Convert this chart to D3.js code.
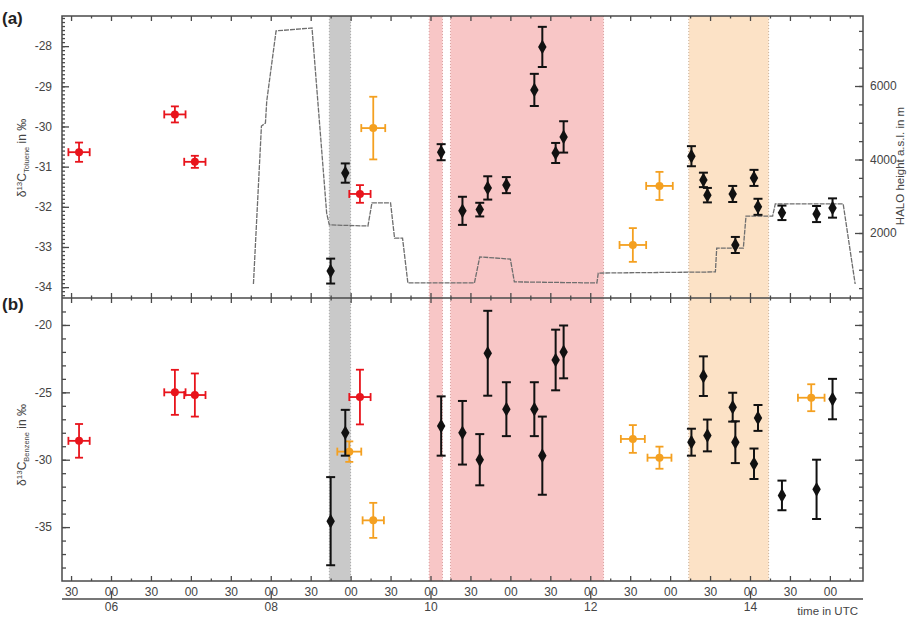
<!DOCTYPE html>
<html><head><meta charset="utf-8">
<script src="https://cdn.jsdelivr.net/npm/d3@7"></script>
<style>body{margin:0;background:#fff} svg{display:block;font-family:"Liberation Sans",Arial,sans-serif}</style>
</head><body><svg id="c" width="914" height="617"></svg>
<script>
// ---------------- data ----------------
const blackTimes = ["08:45","08:56","10:08","10:24","10:37","10:43","10:57","11:18","11:24","11:34","11:40",
                    "13:16","13:25","13:28","13:47","13:49","14:03","14:06","14:24","14:50","15:02"];
const topBlack    = [-33.60,-31.16,-30.64,-32.10,-32.07,-31.53,-31.46,-29.09,-28.02,-30.66,-30.26,
                     -30.74,-31.33,-31.71,-31.68,-32.95,-31.28,-32.00,-32.15,-32.18,-32.03];
const topBlackErr = [0.31,0.24,0.20,0.35,0.17,0.29,0.20,0.40,0.50,0.25,0.39,
                     0.25,0.18,0.18,0.20,0.20,0.20,0.20,0.18,0.20,0.24];
const botBlack    = [-34.56,-28.0,-27.5,-28.0,-30.0,-22.1,-26.25,-26.25,-29.7,-22.6,-22.0,
                     -28.7,-23.8,-28.2,-26.1,-28.7,-30.3,-26.9,-32.65,-32.2,-25.5];
const botBlackErr = [3.27,1.7,2.2,2.36,1.9,3.15,2.0,2.0,2.9,2.25,1.96,
                     1.0,1.47,1.18,1.07,1.55,1.13,0.96,1.1,2.2,1.5];

const redTimes   = ["05:36","06:48","07:03","09:07"];
const redTimeErr = [8,8,8,8];           // minutes (half width)
const topRed     = [-30.64,-29.70,-30.88,-31.68];
const topRedErr  = [0.24,0.20,0.15,0.22];
const botRed     = [-28.6,-25.0,-25.2,-25.35];
const botRedErr  = [1.25,1.67,1.6,2.03];

const topOrangeTimes = ["09:17","12:32","12:52"];
const topOrangeTErr  = [9,10,10];
const topOrange      = [-30.04,-32.95,-31.48];
const topOrangeErr   = [0.78,0.42,0.35];
const botOrangeTimes = ["08:59","09:17","12:32","12:52","14:46"];
const botOrangeTErr  = [9,8,9,9,10];
const botOrange      = [-29.4,-34.5,-28.46,-29.85,-25.4];
const botOrangeErr   = [0.76,1.3,1.03,0.82,1.0];

const haloTimes  = ["07:47","07:53","07:56","07:57","08:04","08:31","08:42","08:44","09:13","09:16","09:30","09:33",
                    "09:39","09:43","10:33","10:37","11:00","11:03","12:05","12:06","13:34","13:35","13:55","13:57",
                    "14:17","14:19","15:10","15:19"];
const haloHeight = [612,4910,4990,5590,7500,7580,2540,2220,2190,2820,2820,1860,
                    1860,640,640,1350,1290,670,640,910,940,1590,1590,2460,
                    2460,2790,2790,612];

const shadeStart = ["08:44","09:59","10:15","13:14"];
const shadeEnd   = ["09:00","10:09","12:10","14:14"];
const shadeKind  = ["gray","pink","pink","peach"];

const yTicksA = [-28,-29,-30,-31,-32,-33,-34];
const yTicksB = [-20,-25,-30,-35];
const hTicks  = [2000,4000,6000];
const hourLabels = ["06","08","10","12","14"];

// ---------------- layout ----------------
const L=62, R=863, TA=16, BA=298, TB=298, BB=581;
const hr = s => { const [h,m]=s.split(":").map(Number); return h+m/60; };
const svg = d3.select("#c");
const x  = d3.scaleLinear().domain([5.3866,15.4147]).range([L,R]);
const yA = d3.scaleLinear().domain([-34.27,-27.25]).range([BA,TA]);
const yH = d3.scaleLinear().domain([231,7905]).range([BA,TA]);
const yB = d3.scaleLinear().domain([-39,-18]).range([BB,TB]);
const shadeFill = {gray:"#c9c9c9", pink:"#f8c6c6", peach:"#fce2c6"};
const shadeEdge = {gray:"#a8a8a8", pink:"#d9a0a0", peach:"#c8b098"};
const axisCol = "#4a4a4a", txtCol = "#444";

// shading
shadeStart.forEach((s,i)=>{
  const x0=x(hr(s)), x1=x(hr(shadeEnd[i]));
  svg.append("rect").attr("x",x0).attr("y",TA).attr("width",x1-x0).attr("height",BB-TA)
     .attr("fill",shadeFill[shadeKind[i]]);
  [x0,x1].forEach(xx=>svg.append("line").attr("x1",xx).attr("x2",xx).attr("y1",TA).attr("y2",BB)
     .attr("stroke",shadeEdge[shadeKind[i]]).attr("stroke-width",1).attr("stroke-dasharray","1,2"));
});

// HALO height line
const halo = haloTimes.map((t,i)=>[hr(t),haloHeight[i]]);
svg.append("path").datum(halo)
  .attr("d", d3.line().x(d=>x(d[0])).y(d=>yH(d[1])))
  .attr("fill","none").attr("stroke","#6e6e6e").attr("stroke-width",1.3).attr("stroke-dasharray","5,1");

// error-bar drawing helpers
function vbar(g, cx, y0, y1, cap, col, w){
  g.append("line").attr("x1",cx).attr("x2",cx).attr("y1",y0).attr("y2",y1).attr("stroke",col).attr("stroke-width",w);
  [y0,y1].forEach(yy=>g.append("line").attr("x1",cx-cap).attr("x2",cx+cap).attr("y1",yy).attr("y2",yy)
     .attr("stroke",col).attr("stroke-width",w));
}
function hbar(g, cy, x0, x1, cap, col, w){
  g.append("line").attr("x1",x0).attr("x2",x1).attr("y1",cy).attr("y2",cy).attr("stroke",col).attr("stroke-width",w);
  [x0,x1].forEach(xx=>g.append("line").attr("x1",xx).attr("x2",xx).attr("y1",cy-cap).attr("y2",cy+cap)
     .attr("stroke",col).attr("stroke-width",w));
}
function crossPts(times, tErr, vals, errs, ys, col){
  const g = svg.append("g");
  times.forEach((t,i)=>{
    const cx=x(hr(t)), cy=ys(vals[i]);
    vbar(g,cx,ys(vals[i]+errs[i]),ys(vals[i]-errs[i]),4,col,1.8);
    hbar(g,cy,x(hr(t)-tErr[i]/60),x(hr(t)+tErr[i]/60),4,col,1.8);
    g.append("circle").attr("cx",cx).attr("cy",cy).attr("r",4).attr("fill",col);
  });
}
function blackPts(vals, errs, ys){
  const g = svg.append("g");
  blackTimes.forEach((t,i)=>{
    const cx=x(hr(t));
    vbar(g,cx,ys(vals[i]+errs[i]),ys(vals[i]-errs[i]),4.5,"#111",2);
    g.append("path").attr("d",d3.symbol(d3.symbolDiamond,62)())
      .attr("transform",`translate(${cx},${ys(vals[i])})`).attr("fill","#111");
  });
}
const RED="#e8141c", ORANGE="#f4a020";
crossPts(redTimes, redTimeErr, topRed, topRedErr, yA, RED);
crossPts(topOrangeTimes, topOrangeTErr, topOrange, topOrangeErr, yA, ORANGE);
blackPts(topBlack, topBlackErr, yA);
crossPts(redTimes, redTimeErr, botRed, botRedErr, yB, RED);
crossPts(botOrangeTimes, botOrangeTErr, botOrange, botOrangeErr, yB, ORANGE);
blackPts(botBlack, botBlackErr, yB);

// ---------------- axes ----------------
const q = d3.range(5.5,15.41,0.25);
const halfH = q.filter(t=>Math.abs(t*2-Math.round(t*2))<1e-6);
const quarter = q.filter(t=>Math.abs(t*2-Math.round(t*2))>1e-6);
function styleAxis(g){ g.select(".domain").remove(); g.selectAll("line").attr("stroke",axisCol).attr("stroke-width",1.3);
  g.selectAll("text").attr("fill",txtCol).style("font-size","12px").style("font-family","Liberation Sans, Arial, sans-serif"); }
// bottom
svg.append("g").attr("transform",`translate(0,${BB})`)
  .call(d3.axisBottom(x).tickValues(quarter).tickSize(-2.5).tickFormat("")).call(styleAxis);
svg.append("g").attr("transform",`translate(0,${BB})`)
  .call(d3.axisBottom(x).tickValues(halfH).tickSize(-5).tickPadding(6)
    .tickFormat(t=>Math.abs(t-Math.round(t))<1e-6?"00":"30")).call(styleAxis);
// top of panel a
svg.append("g").attr("transform",`translate(0,${TA})`)
  .call(d3.axisTop(x).tickValues(quarter).tickSize(-2.5).tickFormat("")).call(styleAxis);
svg.append("g").attr("transform",`translate(0,${TA})`)
  .call(d3.axisTop(x).tickValues(halfH).tickSize(-5).tickFormat("")).call(styleAxis);
// divider ticks (both ways)
[[-2.5,quarter],[-5,halfH],[2.5,quarter],[5,halfH]].forEach(([s,v])=>{
  svg.append("g").attr("transform",`translate(0,${BA})`)
    .call(d3.axisBottom(x).tickValues(v).tickSize(s).tickFormat("")).call(styleAxis);
});
// hour axis
svg.append("g").attr("transform",`translate(0,599)`)
  .call(d3.axisBottom(x).tickValues(hourLabels.map(Number)).tickSize(-8).tickPadding(3).tickFormat(d=>d3.format("02d")(d)))
  .call(styleAxis);
svg.append("line").attr("x1",L).attr("x2",R).attr("y1",599).attr("y2",599).attr("stroke",axisCol).attr("stroke-width",1.3);
svg.append("text").attr("x",858).attr("y",615).attr("text-anchor","end").attr("fill",txtCol)
  .style("font-size","11.5px").text("time in UTC");

// left axis a
svg.append("g").attr("transform",`translate(${L},0)`)
  .call(d3.axisLeft(yA).tickValues(d3.range(-34.2,-27.25,0.1)).tickSize(-3).tickFormat("")).call(styleAxis);
svg.append("g").attr("transform",`translate(${L},0)`)
  .call(d3.axisLeft(yA).tickValues(yTicksA).tickSize(-7).tickPadding(10).tickFormat(d=>String(d))).call(styleAxis);
// left axis b
svg.append("g").attr("transform",`translate(${L},0)`)
  .call(d3.axisLeft(yB).tickValues(d3.range(-38,-18.5,1)).tickSize(-4).tickFormat("")).call(styleAxis);
svg.append("g").attr("transform",`translate(${L},0)`)
  .call(d3.axisLeft(yB).tickValues(yTicksB).tickSize(-8).tickPadding(10).tickFormat(d=>String(d))).call(styleAxis);
// right axis b (mirror)
svg.append("g").attr("transform",`translate(${R},0)`)
  .call(d3.axisRight(yB).tickValues(d3.range(-38,-18.5,1)).tickSize(-4).tickFormat("")).call(styleAxis);
svg.append("g").attr("transform",`translate(${R},0)`)
  .call(d3.axisRight(yB).tickValues(yTicksB).tickSize(-8).tickFormat("")).call(styleAxis);
// right axis a (HALO height)
svg.append("g").attr("transform",`translate(${R},0)`)
  .call(d3.axisRight(yH).tickValues(d3.range(500,7901,500)).tickSize(-4).tickFormat("")).call(styleAxis);
svg.append("g").attr("transform",`translate(${R},0)`)
  .call(d3.axisRight(yH).tickValues(hTicks).tickSize(-8).tickPadding(7).tickFormat(d=>String(d))).call(styleAxis);

// frame
svg.append("rect").attr("x",L).attr("y",TA).attr("width",R-L).attr("height",BB-TA)
  .attr("fill","none").attr("stroke",axisCol).attr("stroke-width",1.5);
svg.append("line").attr("x1",L).attr("x2",R).attr("y1",BA).attr("y2",BA).attr("stroke",axisCol).attr("stroke-width",1.5);

// titles
function yTitle(cx, cy, sub){
  const t = svg.append("text").attr("transform",`translate(${cx},${cy}) rotate(-90)`).attr("text-anchor","middle")
    .attr("fill",txtCol).style("font-size","12px");
  t.append("tspan").text("δ");
  t.append("tspan").attr("dy",-4).style("font-size","8px").text("13");
  t.append("tspan").attr("dy",4).text("C");
  t.append("tspan").attr("dy",3).style("font-size","7.5px").text(sub);
  t.append("tspan").attr("dy",-3).text(" in ‰");
}
yTitle(26,158,"Toluene");
yTitle(26,445,"Benzene");
svg.append("text").attr("transform","translate(904,166) rotate(-90)").attr("text-anchor","middle")
  .attr("fill",txtCol).style("font-size","11.5px").text("HALO height a.s.l. in m");
svg.append("text").attr("x",2).attr("y",24).style("font-size","17px").style("font-weight","bold").attr("fill","#222").text("(a)");
svg.append("text").attr("x",2).attr("y",310).style("font-size","17px").style("font-weight","bold").attr("fill","#222").text("(b)");
</script></body></html>
